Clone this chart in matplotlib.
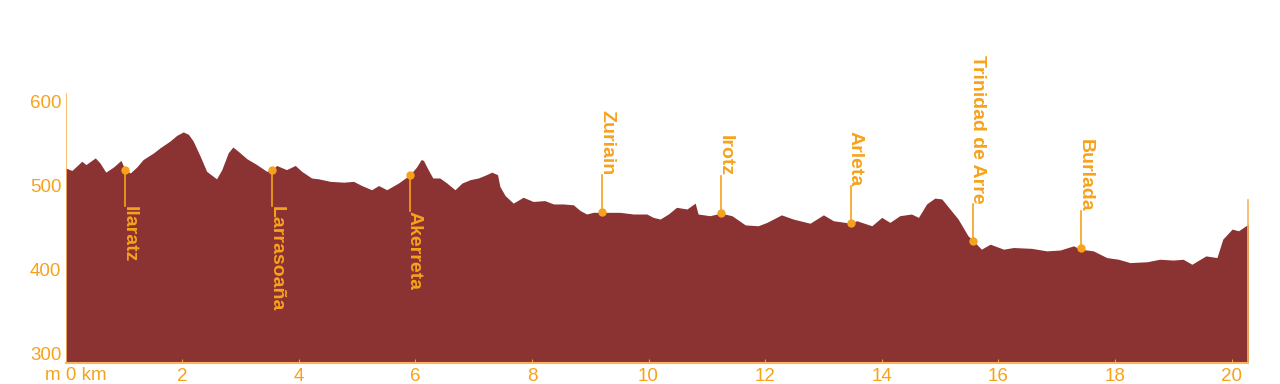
import matplotlib.pyplot as plt
from matplotlib.transforms import blended_transform_factory

# perfil de elevación (km, m)
dist_km = [0.0, 0.11, 0.28, 0.35, 0.51, 0.59, 0.69, 0.82, 0.95, 1.02, 1.11, 1.22, 1.33,
           1.51, 1.62, 1.79, 1.91, 2.02, 2.11, 2.19, 2.31, 2.42, 2.59, 2.68, 2.79, 2.87,
           2.96, 3.11, 3.28, 3.45, 3.54, 3.62, 3.79, 3.94, 4.05, 4.22, 4.34, 4.54, 4.77,
           4.94, 5.08, 5.25, 5.37, 5.51, 5.71, 5.91, 6.02, 6.10, 6.14, 6.22, 6.30, 6.42,
           6.54, 6.68, 6.80, 6.94, 7.08, 7.22, 7.31, 7.41, 7.45, 7.54, 7.68, 7.85, 8.02,
           8.22, 8.37, 8.54, 8.71, 8.83, 8.94, 9.05, 9.21, 9.51, 9.74, 9.97, 10.08, 10.20,
           10.34, 10.48, 10.66, 10.80, 10.85, 11.05, 11.24, 11.43, 11.66, 11.88, 12.03,
           12.28, 12.48, 12.77, 13.00, 13.17, 13.47, 13.57, 13.83, 14.00, 14.14, 14.31,
           14.51, 14.63, 14.77, 14.91, 15.03, 15.17, 15.31, 15.48, 15.57, 15.71, 15.86,
           16.09, 16.26, 16.57, 16.83, 17.06, 17.29, 17.41, 17.63, 17.86, 18.06, 18.26,
           18.55, 18.77, 19.00, 19.17, 19.32, 19.56, 19.75, 19.85, 20.01, 20.12, 20.29]
elev_m = [521, 518, 529, 525, 533, 527, 516, 522, 530, 519, 515, 522, 531,
          539, 545, 553, 560, 564, 561, 553, 535, 517, 508, 519, 539, 546,
          541, 532, 525, 517, 518, 524, 519, 524, 517, 509, 508, 505, 504,
          505, 500, 495, 500, 495, 503, 513, 522, 531, 530, 519, 509, 509,
          503, 495, 503, 507, 509, 513, 516, 513, 499, 488, 479, 486, 481,
          482, 478, 478, 477, 470, 466, 468, 468, 468, 466, 466, 462, 460,
          466, 474, 472, 479, 466, 464, 467, 464, 453, 452, 456,
          465, 460, 455, 465, 458, 455, 458, 452, 462, 456, 464,
          466, 462, 478, 485, 484, 472, 460, 440, 434, 424, 430,
          424, 426, 425, 422, 423, 428, 424, 422, 414, 412, 408,
          409, 412, 411, 412, 406, 416, 414, 436, 448, 446, 454]

# localidades
pueblos = ["Ilaratz", "Larrasoaña", "Akerreta", "Zuriain", "Irotz", "Arleta",
           "Trinidad de Arre", "Burlada"]
pueblos_km = [1.02, 3.54, 5.91, 9.21, 11.24, 13.47, 15.57, 17.41]
pueblos_m = [519, 519, 513, 468, 467, 455, 434, 425]
etiqueta_abajo = [True, True, True, False, False, False, False, False]

marron = "#8B3232"
naranja = "#F7A21B"
naranja_claro = "#F9B45E"

y_min, y_max = 288.5, 721.5

fig = plt.figure(figsize=(12.8, 3.84), dpi=100)
ax = fig.add_axes([0.0512, 0.0555, 0.9337, 0.9445])

ax.fill_between(dist_km, y_min, elev_m, color=marron, linewidth=0, zorder=1)

# líneas de los ejes
ax.plot([0, 0], [y_min, 609], color=naranja_claro, lw=1.2, zorder=3)
ax.plot([dist_km[-1], dist_km[-1]], [y_min, 483], color=naranja_claro, lw=1.2, zorder=3)
ax.plot([0, dist_km[-1]], [y_min, y_min], color=naranja_claro, lw=1.5, zorder=3, clip_on=False)

for nombre, km, m, abajo in zip(pueblos, pueblos_km, pueblos_m, etiqueta_abajo):
    if abajo:
        y_fin = m - 44
        va = "top"
    else:
        y_fin = m + 44
        va = "bottom"
    ax.plot([km, km], [m, y_fin], color=naranja, lw=1.2, zorder=4)
    ax.plot(km, m, "o", color=naranja, ms=5, zorder=5)
    ax.text(km - 0.07, y_fin, nombre, rotation=270, ha="left", va=va,
            color=naranja, fontsize=14, fontweight="bold", family="Liberation Sans",
            zorder=6)

ax.set_xlim(0, 20.5)
ax.set_ylim(y_min, y_max)
ax.set_xticks([2, 4, 6, 8, 10, 12, 14, 16, 18, 20])
ax.set_yticks([300, 400, 500, 600])
for s in ax.spines.values():
    s.set_visible(False)
ax.tick_params(axis="x", direction="in", length=3, color=naranja, pad=4,
               labelcolor=naranja, labelsize=13.5)
ax.tick_params(axis="y", length=0, pad=3, labelcolor=naranja, labelsize=13.5)
for lab in ax.get_xticklabels() + ax.get_yticklabels():
    lab.set_family("Liberation Sans")

trans = blended_transform_factory(ax.transData, ax.transAxes)
ax.text(0.17, -0.012, "m 0 km", transform=trans, ha="center", va="top",
        color=naranja, fontsize=13.5, family="Liberation Sans")

fig.savefig("out.png", dpi=100, facecolor="white")
